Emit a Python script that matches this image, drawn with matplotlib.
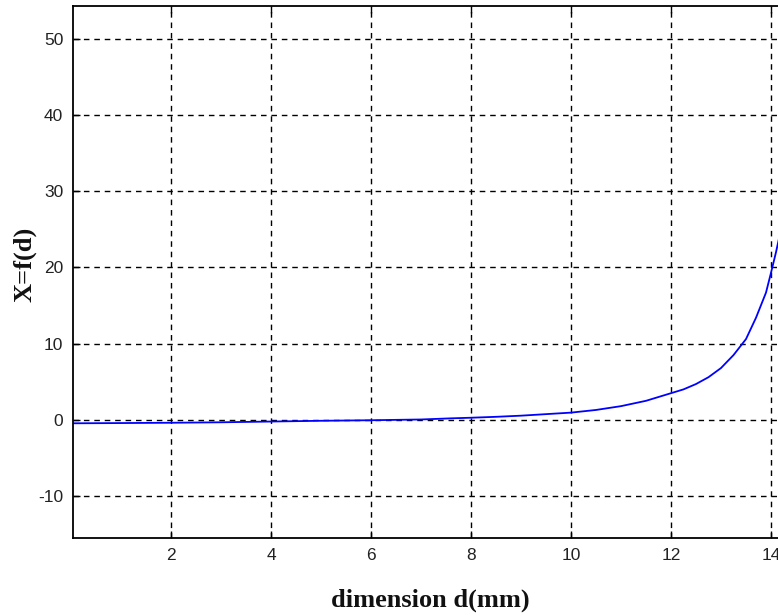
import matplotlib
matplotlib.use("Agg")
import matplotlib.pyplot as plt

# data
d_vals = [0.04, 1.0, 2.0, 3.0, 4.0, 5.0, 6.0, 7.0, 7.6, 8.0, 8.5, 9.0, 9.5, 10.0,
          10.5, 11.0, 11.5, 12.0, 12.25, 12.5, 12.75, 13.0, 13.25, 13.5, 13.7,
          13.9, 14.0, 14.1, 14.2]
x_vals = [-0.45, -0.42, -0.38, -0.32, -0.22, -0.12, -0.05, 0.05, 0.2, 0.28, 0.4,
          0.55, 0.75, 0.95, 1.3, 1.8, 2.5, 3.5, 4.0, 4.7, 5.6, 6.8, 8.5, 10.6,
          13.4, 16.7, 19.3, 22.0, 25.0]
xticks = [2, 4, 6, 8, 10, 12, 14]
yticks = [-10, 0, 10, 20, 30, 40, 50]
ytick_labels = ["-10", "0", "10", "20", "30", "40", "50"]

W, H = 778, 616
fig = plt.figure(figsize=(W / 100, H / 100), dpi=100)
left_px, top_px, bottom_px = 73, 6, 538
xmin, xmax = 0.04, 15.0
px_per_unit = 50.0
width_px = (xmax - xmin) * px_per_unit
ax = fig.add_axes([left_px / W, (H - bottom_px) / H, width_px / W, (bottom_px - top_px) / H])

ax.plot(d_vals, x_vals, color=(0, 0, 1), lw=1.3)
ax.set_xlim(xmin, xmax)
ax.set_ylim(-15.5, 54.3)
ax.set_xticks(xticks)
ax.set_yticks(yticks)
ax.set_yticklabels(ytick_labels)
ax.grid(True, color="black", linestyle=(0, (4, 3.5)), linewidth=1.0)
ax.tick_params(direction="in", length=5, width=1.0, top=True, right=False,
               labelsize=12.5, pad=7, colors="black")
for lab in ax.get_xticklabels() + ax.get_yticklabels():
    lab.set_fontfamily("Liberation Sans")
    lab.set_color("#222222")
for s in ax.spines.values():
    s.set_linewidth(1.3)

fig.text(430 / W, 1 - 600 / H, "dimension d(mm)", fontfamily="Liberation Serif",
         fontweight="bold", fontsize=19, ha="center", va="center", color="#111111")
fig.text(25 / W, 1 - 264 / H, "X=f(d)", fontfamily="Liberation Serif",
         fontweight="bold", fontsize=19, ha="center", va="center", rotation=90,
         color="#111111")

fig.savefig("out.png", dpi=100)
